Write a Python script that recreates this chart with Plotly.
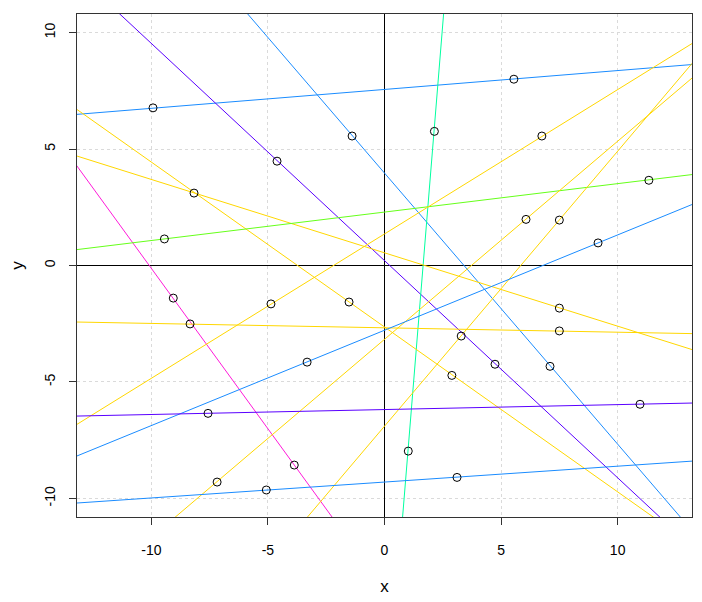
import plotly.graph_objects as go

# Points (x, y)
point_x = [-9.93, 5.55, -1.39, 7.10, -4.61, 4.74, 2.14, 1.02, -8.17, 2.89,
           -1.52, 7.50, -9.06, -3.87, -9.44, 11.34, 6.75, -4.87, 7.50, 3.29,
           6.07, -7.18, -8.34, 7.50, -3.32, 9.16, -7.57, 10.96, -5.07, 3.11]
point_y = [6.77, 8.00, 5.56, -4.33, 4.48, -4.24, 5.76, -7.97, 3.11, -4.72,
           -1.57, -1.83, -1.40, -8.57, 1.14, 3.66, 5.56, -1.65, 1.95, -3.03,
           1.98, -9.30, -2.51, -2.81, -4.15, 0.97, -6.35, -5.96, -9.64, -9.10]

# Lines y = a + b*x
line_a = [7.56, 3.97, 0.21, -20.33, -2.64, 0.545, -13.9, 2.294, 1.355, -6.90,
          -3.17, -2.676, -2.78, -6.186, -9.30]
line_b = [0.0811, -1.164, -0.9326, 12.28, -0.708, -0.315, -1.3775, 0.1221, 0.6198, 1.1807,
          0.8506, -0.01888, 0.4093, 0.0212, 0.0682]

# Tick values and labels
tick_vals = [-10, -5, 0, 5, 10]
tick_text = ["-10", "-5", "0", "5", "10"]

BLUE = "#1A8CFF"
PURPLE = "#5A00FF"
TEAL = "#00FFA0"
YELLOW = "#FFD700"
MAGENTA = "#FF1AD9"
GREEN = "#66FF1A"
line_colors = [BLUE, BLUE, PURPLE, TEAL, YELLOW, YELLOW, MAGENTA, GREEN, YELLOW, YELLOW,
               YELLOW, YELLOW, BLUE, PURPLE, BLUE]

XR = [-13.19, 13.19]
YR = [-10.8, 10.8]

fig = go.Figure()
for a, b, c in zip(line_a, line_b, line_colors):
    xs = [XR[0] - 1, XR[1] + 1]
    ys = [a + b * x for x in xs]
    fig.add_trace(go.Scatter(x=xs, y=ys, mode="lines",
                             line=dict(color=c, width=1), hoverinfo="skip"))

fig.add_trace(go.Scatter(x=point_x, y=point_y, mode="markers",
                         marker=dict(symbol="circle-open", size=8, color="black",
                                     line=dict(width=1, color="black"))))

FONT = "Liberation Sans, Arial, sans-serif"
axis_common = dict(
    showgrid=True, gridcolor="#DADADA", griddash="dot", gridwidth=1,
    zeroline=True, zerolinecolor="black", zerolinewidth=1,
    showline=True, linecolor="#333333", linewidth=1, mirror=True,
    ticks="outside", ticklen=7, tickcolor="#333333", tickwidth=1,
    tickfont=dict(family=FONT, size=14, color="black"),
    tickvals=tick_vals, ticktext=tick_text,
    automargin=False,
)

# The page body has an 8px default margin; the figure is sized to fit the window.
fig.update_layout(
    width=694, height=594,
    margin=dict(l=69, r=10, t=6, b=85),
    plot_bgcolor="white", paper_bgcolor="white",
    showlegend=False,
    font=dict(family=FONT, size=14, color="black"),
    xaxis=dict(range=XR, title=dict(text="x", standoff=23), ticklabelstandoff=13, **axis_common),
    yaxis=dict(range=YR, title=dict(text="y", standoff=26), tickangle=-90, ticklabelstandoff=8,
               **axis_common),
)

fig.write_html("out.html")
